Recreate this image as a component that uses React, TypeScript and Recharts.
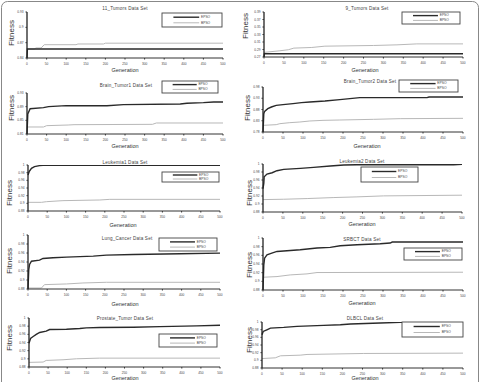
import React from 'react';
import { LineChart, Line, XAxis, YAxis } from 'recharts';

const genTicks = [0, 50, 100, 150, 200, 250, 300, 350, 400, 450, 500];
const ticks088 = [0.88, 0.9, 0.92, 0.94, 0.96, 0.98, 1];

// 11_Tumors
const t11Ticks = [0.84, 0.87, 0.9, 0.93];
const t11EpsoGen = [0, 1, 500];
const t11EpsoFit = [0.84, 0.8576, 0.8576];
const t11BpsoGen = [0, 20, 22, 36, 44, 125, 130, 195, 200, 500];
const t11BpsoFit = [0.8576, 0.8576, 0.8596, 0.8596, 0.866, 0.866, 0.8674, 0.8674, 0.869, 0.869];

// 9_Tumors
const t9Ticks = [0.27, 0.29, 0.31, 0.33, 0.35, 0.37, 0.39];
const t9EpsoGen = [0, 1, 500];
const t9EpsoFit = [0.27, 0.2788, 0.2788];
const t9BpsoGen = [0, 40, 61, 75, 120, 153, 275, 334, 384, 500];
const t9BpsoFit = [0.2823, 0.2866, 0.2893, 0.2937, 0.2954, 0.2989, 0.3007, 0.3024, 0.305, 0.305];

// Brain_Tumor1
const bt1Ticks = [0.81, 0.85, 0.89, 0.93];
const bt1EpsoGen = [0, 2, 8, 42, 55, 100, 204, 246, 391, 408, 450, 476, 500];
const bt1EpsoFit = [0.81, 0.8685, 0.8841, 0.8871, 0.89, 0.8929, 0.8929, 0.8959, 0.8978, 0.8998, 0.9017, 0.9037, 0.9037];
const bt1BpsoGen = [0, 42, 50, 105, 120, 320, 330, 500];
const bt1BpsoFit = [0.8305, 0.8305, 0.8344, 0.8363, 0.8373, 0.8383, 0.8422, 0.8422];

// Brain_Tumor2
const bt2Ticks = [0.78, 0.83, 0.88, 0.93, 0.98];
const bt2EpsoGen = [0, 2, 4, 12, 21, 33, 50, 75, 96, 117, 155, 192, 217, 242, 410, 415, 500];
const bt2EpsoFit = [0.78, 0.8615, 0.8718, 0.8837, 0.8911, 0.8985, 0.9015, 0.9059, 0.9104, 0.9133, 0.9178, 0.9237, 0.9281, 0.9326, 0.9326, 0.9356, 0.9356];
const bt2BpsoGen = [0, 33, 42, 67, 92, 117, 150, 192, 276, 343, 500];
const bt2BpsoFit = [0.8096, 0.8126, 0.817, 0.8215, 0.8244, 0.8289, 0.8318, 0.8333, 0.8363, 0.8393, 0.8407];

// Leukemia1
const lk1EpsoGen = [0, 3, 9, 17, 30, 39, 500];
const lk1EpsoFit = [0.9739, 0.9826, 0.9913, 0.9957, 0.9983, 0.999, 0.999];
const lk1BpsoGen = [0, 35, 48, 91, 187, 213, 500];
const lk1BpsoFit = [0.9026, 0.9026, 0.9043, 0.907, 0.9087, 0.9104, 0.9104];

// Leukemia2
const lk2EpsoGen = [0, 2, 3, 10, 23, 35, 52, 94, 127, 169, 203, 236, 479, 500];
const lk2EpsoFit = [0.9387, 0.9513, 0.9681, 0.9748, 0.9782, 0.9832, 0.9866, 0.9891, 0.9916, 0.995, 0.9975, 0.9983, 0.9983, 0.9991];
const lk2BpsoGen = [0, 52, 111, 178, 236, 303, 500];
const lk2BpsoFit = [0.911, 0.9119, 0.9136, 0.9161, 0.9178, 0.9203, 0.922];

// Lung_Cancer
const lcEpsoGen = [0, 2, 4, 9, 30, 39, 65, 100, 170, 204, 274, 396, 500];
const lcEpsoFit = [0.88, 0.9232, 0.9344, 0.9418, 0.9441, 0.9478, 0.9493, 0.9508, 0.953, 0.9552, 0.9567, 0.9582, 0.9597];
const lcBpsoGen = [0, 35, 43, 100, 143, 204, 500];
const lcBpsoFit = [0.8822, 0.8822, 0.8897, 0.8912, 0.8934, 0.8949, 0.8949];

// SRBCT
const srEpsoGen = [0, 2, 4, 10, 22, 35, 60, 93, 135, 168, 193, 235, 293, 318, 323, 500];
const srEpsoFit = [0.88, 0.9381, 0.9535, 0.9613, 0.9652, 0.969, 0.9706, 0.9729, 0.9768, 0.9783, 0.9822, 0.9845, 0.9868, 0.9884, 0.9907, 0.9907];
const srBpsoGen = [0, 35, 68, 110, 135, 500];
const srBpsoFit = [0.9094, 0.911, 0.9148, 0.9172, 0.9203, 0.921];

// Prostate_Tumor
const prEpsoGen = [0, 4, 10, 19, 28, 45, 54, 98, 133, 150, 185, 273, 343, 439, 500];
const prEpsoFit = [0.938, 0.95, 0.9541, 0.9597, 0.9646, 0.9678, 0.9718, 0.9726, 0.9742, 0.9758, 0.9766, 0.9774, 0.979, 0.9806, 0.9823];
const prBpsoGen = [0, 37, 45, 89, 124, 185, 500];
const prBpsoFit = [0.8913, 0.8921, 0.8961, 0.8977, 0.9001, 0.9017, 0.9017];

// DLBCL
const dlEpsoGen = [0, 3, 12, 21, 54, 87, 153, 195, 220, 294, 344, 500];
const dlEpsoFit = [0.9665, 0.9753, 0.9797, 0.9841, 0.9859, 0.9885, 0.9912, 0.9929, 0.9947, 0.9974, 0.9991, 1.0];
const dlBpsoGen = [0, 33, 46, 95, 112, 253, 500];
const dlBpsoFit = [0.9047, 0.9065, 0.9118, 0.9135, 0.9153, 0.9179, 0.9188];

const rows = (gen: number[], fit: number[]) => gen.map((g, i) => ({ gen: g, fit: fit[i] }));

const FONT = '"Liberation Sans", Arial, sans-serif';
const YW = 22;
const XH = 14;

// layout: plot box [left, top, right, bottom], legend [x, y, w, h], label anchors
const panels = [
  { title: '11_Tumors Data Set', ticks: t11Ticks, epso: rows(t11EpsoGen, t11EpsoFit), bpso: rows(t11BpsoGen, t11BpsoFit),
    box: [27, 12, 223, 58], legend: [162, 13, 60, 14], titleAt: [125, 9], fitAt: [12, 33], genAt: [125, 71] },
  { title: '9_Tumors Data Set', ticks: t9Ticks, epso: rows(t9EpsoGen, t9EpsoFit), bpso: rows(t9BpsoGen, t9BpsoFit),
    box: [264, 12, 463, 57], legend: [402, 12, 58, 12], titleAt: [367, 9], fitAt: [246, 26], genAt: [365, 71] },
  { title: 'Brain_Tumor1 Data Set', ticks: bt1Ticks, epso: rows(bt1EpsoGen, bt1EpsoFit), bpso: rows(bt1BpsoGen, bt1BpsoFit),
    box: [27, 93, 223, 134], legend: [162, 81, 56, 12], titleAt: [126, 86], fitAt: [12, 108], genAt: [125, 147] },
  { title: 'Brain_Tumor2 Data Set', ticks: bt2Ticks, epso: rows(bt2EpsoGen, bt2EpsoFit), bpso: rows(bt2BpsoGen, bt2BpsoFit),
    box: [263, 87, 463, 132], legend: [399, 80, 59, 12], titleAt: [370, 82], fitAt: [248, 108], genAt: [367, 147] },
  { title: 'Leukemia1 Data Set', ticks: ticks088, epso: rows(lk1EpsoGen, lk1EpsoFit), bpso: rows(lk1BpsoGen, lk1BpsoFit),
    box: [28, 165, 220, 211], legend: [162, 172, 57, 10], titleAt: [125, 163], fitAt: [10, 193], genAt: [123, 226] },
  { title: 'Leukemia2 Data Set', ticks: ticks088, epso: rows(lk2EpsoGen, lk2EpsoFit), bpso: rows(lk2BpsoGen, lk2BpsoFit),
    box: [263, 164, 462, 212], legend: [361, 167, 57, 15], titleAt: [362, 162], fitAt: [250, 193], genAt: [362, 225] },
  { title: 'Lung_Cancer Data Set', ticks: ticks088, epso: rows(lcEpsoGen, lcEpsoFit), bpso: rows(lcBpsoGen, lcBpsoFit),
    box: [28, 235, 220, 289], legend: [159, 238, 58, 13], titleAt: [127, 239], fitAt: [10, 261], genAt: [125, 305] },
  { title: 'SRBCT Data Set', ticks: ticks088, epso: rows(srEpsoGen, srEpsoFit), bpso: rows(srBpsoGen, srBpsoFit),
    box: [263, 238, 463, 290], legend: [404, 248, 58, 12], titleAt: [362, 240], fitAt: [250, 265], genAt: [362, 304] },
  { title: 'Prostate_Tumor Data Set', ticks: ticks088, epso: rows(prEpsoGen, prEpsoFit), bpso: rows(prBpsoGen, prBpsoFit),
    box: [29, 318, 220, 367], legend: [159, 334, 58, 13], titleAt: [125, 319], fitAt: [10, 338], genAt: [125, 379] },
  { title: 'DLBCL Data Set', ticks: ticks088, epso: rows(dlEpsoGen, dlEpsoFit), bpso: rows(dlBpsoGen, dlBpsoFit),
    box: [262, 322, 463, 368], legend: [402, 322, 61, 15], titleAt: [365, 319], fitAt: [250, 340], genAt: [365, 379] },
];

function Panel({ p }: { p: (typeof panels)[number] }) {
  const [l, t, r, b] = p.box;
  const tick = { fontSize: 3.2, fill: '#444', fontFamily: FONT };
  return (
    <div style={{ position: 'absolute', left: l - YW, top: t - 2 }}>
      <LineChart width={r - l + YW + 3} height={b - t + 2 + XH} margin={{ top: 2, right: 3, bottom: 0, left: 0 }}>
        <XAxis dataKey="gen" type="number" domain={[0, 500]} ticks={genTicks} interval={0} height={XH}
          tick={tick} tickSize={1.5} tickMargin={3} axisLine={{ stroke: '#333' }} tickLine={{ stroke: '#333' }} />
        <YAxis type="number" domain={[p.ticks[0], p.ticks[p.ticks.length - 1]]} ticks={p.ticks} interval={0} width={YW}
          allowDataOverflow tick={tick} tickSize={1.5} tickMargin={2} axisLine={{ stroke: '#222', strokeWidth: 1.3 }} tickLine={{ stroke: '#333' }} />
        <Line data={p.bpso} dataKey="fit" type="linear" stroke="#b8b8b8" strokeWidth={1} dot={false} isAnimationActive={false} />
        <Line data={p.epso} dataKey="fit" type="linear" stroke="#2a2a2a" strokeWidth={1.4} dot={false} isAnimationActive={false} />
      </LineChart>
    </div>
  );
}

function Labels({ p }: { p: (typeof panels)[number] }) {
  const [lx, ly, lw, lh] = p.legend;
  return (
    <g fontFamily={FONT}>
      <text x={p.titleAt[0]} y={p.titleAt[1]} textAnchor="middle" dominantBaseline="middle" fontSize={4.6} fill="#444" letterSpacing={0.2}>{p.title}</text>
      <text x={p.fitAt[0]} y={p.fitAt[1]} textAnchor="middle" dominantBaseline="middle" fontSize={8} fill="#333"
        transform={`rotate(-90 ${p.fitAt[0]} ${p.fitAt[1]})`}>Fitness</text>
      <text x={p.genAt[0]} y={p.genAt[1]} textAnchor="middle" dominantBaseline="middle" fontSize={5.5} fill="#333">Generation</text>
      <rect x={lx} y={ly} width={lw} height={lh} fill="#fff" stroke="#444" strokeWidth={0.9} />
      <line x1={lx + lw * 0.19} x2={lx + lw * 0.62} y1={ly + lh * 0.3} y2={ly + lh * 0.3} stroke="#2a2a2a" strokeWidth={1.4} />
      <text x={lx + lw * 0.65} y={ly + lh * 0.3} dominantBaseline="middle" fontSize={3.3} fill="#444">EPSO</text>
      <line x1={lx + lw * 0.19} x2={lx + lw * 0.62} y1={ly + lh * 0.7} y2={ly + lh * 0.7} stroke="#b8b8b8" strokeWidth={1} />
      <text x={lx + lw * 0.65} y={ly + lh * 0.7} dominantBaseline="middle" fontSize={3.3} fill="#444">BPSO</text>
    </g>
  );
}

export default function App() {
  return (
    <div style={{ position: 'absolute', left: 0, top: 0, width: 481, height: 382, background: '#fff', overflow: 'hidden' }}>
      {panels.map((p) => <Panel key={p.title} p={p} />)}
      <svg width={481} height={382} style={{ position: 'absolute', left: 0, top: 0, pointerEvents: 'none' }}>
        <rect x={1.5} y={1.5} width={477} height={420} rx={6} fill="none" stroke="#888" strokeWidth={1} />
        {panels.map((p) => <Labels key={p.title} p={p} />)}
      </svg>
    </div>
  );
}
